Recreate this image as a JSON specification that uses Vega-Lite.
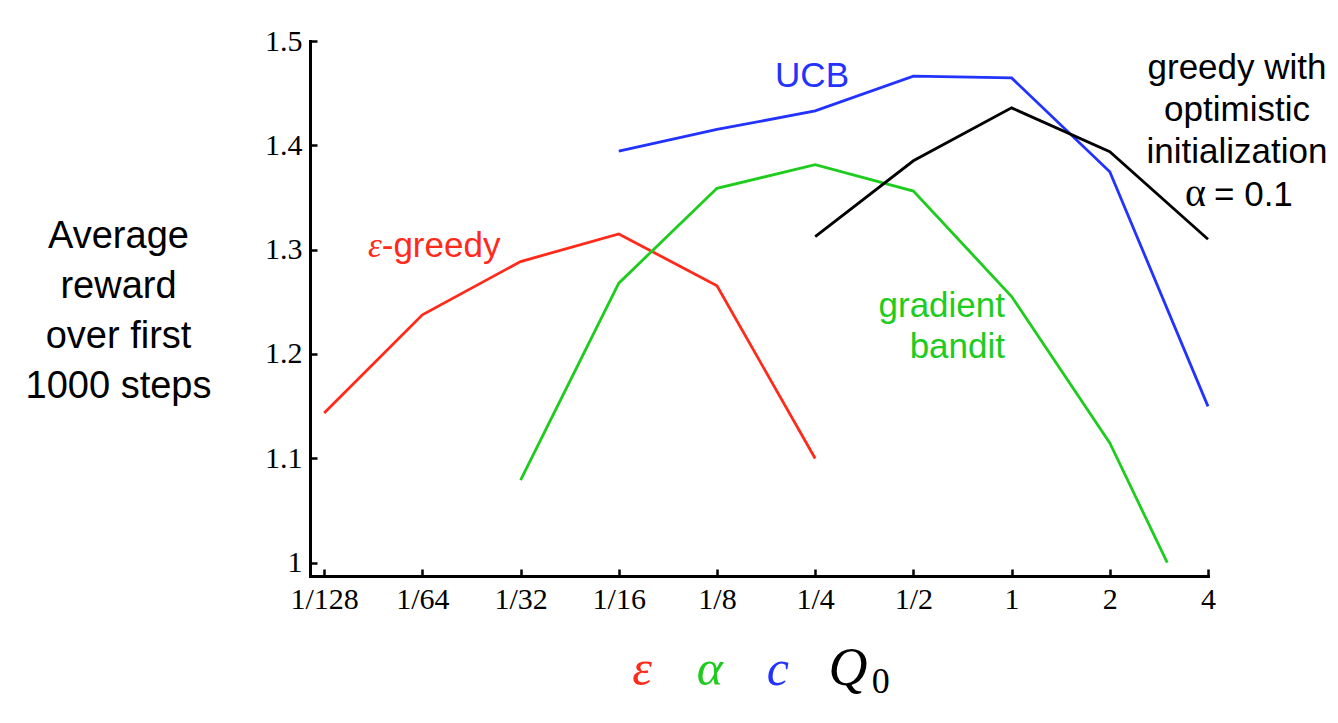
{
  "$schema": "https://vega.github.io/schema/vega-lite/v6.json",
  "autosize": "none",
  "width": 898,
  "height": 535,
  "padding": {"left": 310, "top": 41, "right": 130, "bottom": 147},
  "background": "white",
  "config": {"view": {"stroke": null}},
  "datasets": {
    "curves": [
      {"series": "e-greedy", "param": 0.0078125, "reward": 1.1435},
      {"series": "e-greedy", "param": 0.015625, "reward": 1.2376},
      {"series": "e-greedy", "param": 0.03125, "reward": 1.2886},
      {"series": "e-greedy", "param": 0.0625, "reward": 1.3151},
      {"series": "e-greedy", "param": 0.125, "reward": 1.2653},
      {"series": "e-greedy", "param": 0.25, "reward": 1.0998},
      {"series": "gradient", "param": 0.03125, "reward": 1.079},
      {"series": "gradient", "param": 0.0625, "reward": 1.2679},
      {"series": "gradient", "param": 0.125, "reward": 1.3588},
      {"series": "gradient", "param": 0.25, "reward": 1.3815},
      {"series": "gradient", "param": 0.5, "reward": 1.3562},
      {"series": "gradient", "param": 1, "reward": 1.2551},
      {"series": "gradient", "param": 2, "reward": 1.1148},
      {"series": "gradient", "param": 3, "reward": 1.0},
      {"series": "UCB", "param": 0.0625, "reward": 1.3945},
      {"series": "UCB", "param": 0.125, "reward": 1.4152},
      {"series": "UCB", "param": 0.25, "reward": 1.433},
      {"series": "UCB", "param": 0.5, "reward": 1.4663},
      {"series": "UCB", "param": 1, "reward": 1.4646},
      {"series": "UCB", "param": 2, "reward": 1.3747},
      {"series": "UCB", "param": 4, "reward": 1.1498},
      {"series": "optimistic", "param": 0.25, "reward": 1.3125},
      {"series": "optimistic", "param": 0.5, "reward": 1.3852},
      {"series": "optimistic", "param": 1, "reward": 1.4359},
      {"series": "optimistic", "param": 2, "reward": 1.3938},
      {"series": "optimistic", "param": 4, "reward": 1.310}
    ]
  },
  "layer": [
    {
      "data": {"name": "curves"},
      "mark": {"type": "line", "strokeWidth": 2.8, "strokeJoin": "miter"},
      "encoding": {
        "x": {
          "field": "param", "type": "quantitative",
          "scale": {"type": "log", "base": 2, "domain": [0.007069, 4], "nice": false},
          "axis": {
            "title": null,
            "values": [0.0078125, 0.015625, 0.03125, 0.0625, 0.125, 0.25, 0.5, 1, 2, 4],
            "labelExpr": "datum.value >= 1 ? format(datum.value, 'd') : '1/' + format(1/datum.value, 'd')",
            "labelFont": "Liberation Serif", "labelFontSize": 30, "labelColor": "black",
            "labelPadding": 15, "labelFlush": false, "labelOverlap": false,
            "domainColor": "black", "domainWidth": 3, "domainCap": "square",
            "tickColor": "black", "tickWidth": 2.5, "tickSize": -7,
            "grid": false
          }
        },
        "y": {
          "field": "reward", "type": "quantitative",
          "scale": {"domain": [0.9872, 1.5], "nice": false, "zero": false},
          "axis": {
            "values": [1, 1.1, 1.2, 1.3, 1.4, 1.5],
            "format": "~g",
            "labelFont": "Liberation Serif", "labelFontSize": 30, "labelColor": "black",
            "labelPadding": 15, "labelFlush": false, "labelOverlap": false,
            "domainColor": "black", "domainWidth": 3, "domainCap": "square",
            "tickColor": "black", "tickWidth": 2.5, "tickSize": -7,
            "grid": false,
            "title": ["Average", "reward", "over first", "1000 steps"],
            "titleAngle": 0, "titleFont": "Liberation Sans", "titleFontSize": 38,
            "titleFontWeight": "normal", "titleColor": "black", "titleLineHeight": 50,
            "titleAlign": "center", "titleBaseline": "alphabetic",
            "titleX": -192, "titleY": 206
          }
        },
        "color": {
          "field": "series", "type": "nominal",
          "scale": {"domain": ["e-greedy", "gradient", "UCB", "optimistic"], "range": ["#ff2a1a", "#1ecc1e", "#2233ff", "#000000"]},
          "legend": null
        }
      }
    },
    {
      "data": {"values": [{"label": "UCB"}]},
      "mark": {"type": "text", "font": "Liberation Sans", "fontSize": 35, "color": "#2233ff", "align": "center", "baseline": "alphabetic"},
      "encoding": {"x": {"datum": 0.2445}, "y": {"datum": 1.4559}, "text": {"field": "label"}}
    },
    {
      "data": {"values": [{"label": "ε"}]},
      "mark": {"type": "text", "font": "Liberation Serif", "fontStyle": "italic", "fontSize": 35, "color": "#ff2a1a", "align": "right", "baseline": "alphabetic"},
      "encoding": {"x": {"datum": 0.01173}, "y": {"datum": 1.293}, "text": {"field": "label"}}
    },
    {
      "data": {"values": [{"label": "-greedy"}]},
      "mark": {"type": "text", "font": "Liberation Sans", "fontSize": 35, "color": "#ff2a1a", "align": "left", "baseline": "alphabetic"},
      "encoding": {"x": {"datum": 0.01173}, "y": {"datum": 1.293}, "text": {"field": "label"}}
    },
    {
      "data": {"values": [{"label": ["gradient", "bandit"]}]},
      "mark": {"type": "text", "font": "Liberation Sans", "fontSize": 35, "color": "#1ecc1e", "align": "right", "baseline": "alphabetic", "lineHeight": 41},
      "encoding": {"x": {"datum": 0.9546}, "y": {"datum": 1.2355}, "text": {"field": "label"}}
    },
    {
      "data": {"values": [{"label": ["greedy with", "optimistic", "initialization"]}]},
      "mark": {"type": "text", "font": "Liberation Sans", "fontSize": 35, "color": "black", "align": "center", "baseline": "alphabetic", "lineHeight": 42},
      "encoding": {"x": {"datum": 4.909}, "y": {"datum": 1.4636}, "text": {"field": "label"}}
    },
    {
      "data": {"values": [{"label": "α"}]},
      "mark": {"type": "text", "font": "Liberation Serif", "fontSize": 40, "color": "black", "align": "right", "baseline": "alphabetic"},
      "encoding": {"x": {"datum": 3.944}, "y": {"datum": 1.3418}, "text": {"field": "label"}}
    },
    {
      "data": {"values": [{"label": "= 0.1"}]},
      "mark": {"type": "text", "font": "Liberation Sans", "fontSize": 35, "color": "black", "align": "left", "baseline": "alphabetic"},
      "encoding": {"x": {"datum": 4.173}, "y": {"datum": 1.3418}, "text": {"field": "label"}}
    },
    {
      "data": {"values": [{"label": "ε"}]},
      "mark": {"type": "text", "font": "Liberation Serif", "fontStyle": "italic", "fontSize": 50, "color": "#ff2a1a", "align": "center", "baseline": "alphabetic"},
      "encoding": {"x": {"datum": 0.07368}, "y": {"datum": 0.8827}, "text": {"field": "label"}}
    },
    {
      "data": {"values": [{"label": "α"}]},
      "mark": {"type": "text", "font": "Liberation Serif", "fontStyle": "italic", "fontSize": 50, "color": "#1ecc1e", "align": "center", "baseline": "alphabetic"},
      "encoding": {"x": {"datum": 0.1189}, "y": {"datum": 0.8827}, "text": {"field": "label"}}
    },
    {
      "data": {"values": [{"label": "c"}]},
      "mark": {"type": "text", "font": "Liberation Serif", "fontStyle": "italic", "fontSize": 50, "color": "#2233ff", "align": "center", "baseline": "alphabetic"},
      "encoding": {"x": {"datum": 0.1921}, "y": {"datum": 0.8827}, "text": {"field": "label"}}
    },
    {
      "data": {"values": [{"label": "Q"}]},
      "mark": {"type": "text", "font": "Liberation Serif", "fontStyle": "italic", "fontSize": 54, "color": "black", "align": "center", "baseline": "alphabetic"},
      "encoding": {"x": {"datum": 0.3152}, "y": {"datum": 0.8827}, "text": {"field": "label"}}
    },
    {
      "data": {"values": [{"label": "0"}]},
      "mark": {"type": "text", "font": "Liberation Serif", "fontSize": 36, "color": "black", "align": "left", "baseline": "alphabetic"},
      "encoding": {"x": {"datum": 0.373}, "y": {"datum": 0.8751}, "text": {"field": "label"}}
    }
  ]
}
